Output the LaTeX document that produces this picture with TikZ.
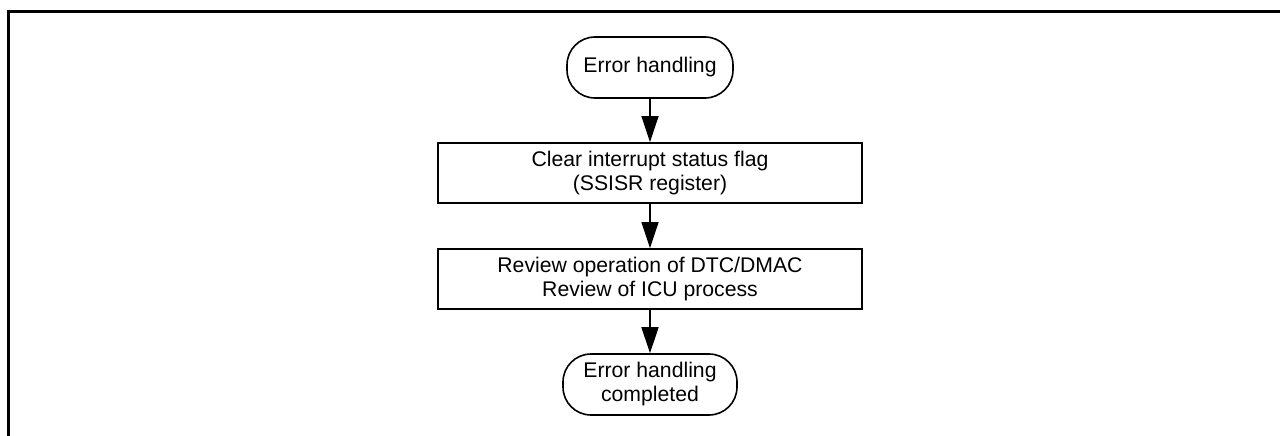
\documentclass[tikz,border=0pt]{standalone}
\usepackage{fontspec}
\setmainfont{Liberation Sans}
\usetikzlibrary{arrows.meta}
\begin{document}
\begin{tikzpicture}[x=1pt,y=-1pt,
  txt/.style={font=\fontsize{21.2}{24}\selectfont, align=center, inner sep=0pt},
  term/.style={txt, draw, line width=1.6pt, rounded corners=28pt, minimum width=166pt, minimum height=61pt},
  proc/.style={txt, draw, line width=1.8pt, minimum width=424pt, minimum height=60pt},
  flow/.style={line width=1.6pt, -{Triangle[length=26pt,width=17pt]}}]
\useasboundingbox (0,0) rectangle (1280,436);
\draw[line width=3pt] (8,436) -- (8,12) -- (1281,12);
\node[term] (start) at (650,67.5) {Error handling};
\node[proc] (clear) at (650,173) {Clear interrupt status flag\\(SSISR register)};
\node[proc] (review) at (650,279) {Review operation of DTC/DMAC\\Review of ICU process};
\node[term, minimum width=174pt] (end) at (650,384.5) {Error handling\\completed};
\draw[flow] (start) -- (clear);
\draw[flow] (clear) -- (review);
\draw[flow] (review) -- (end);
\end{tikzpicture}
\end{document}
